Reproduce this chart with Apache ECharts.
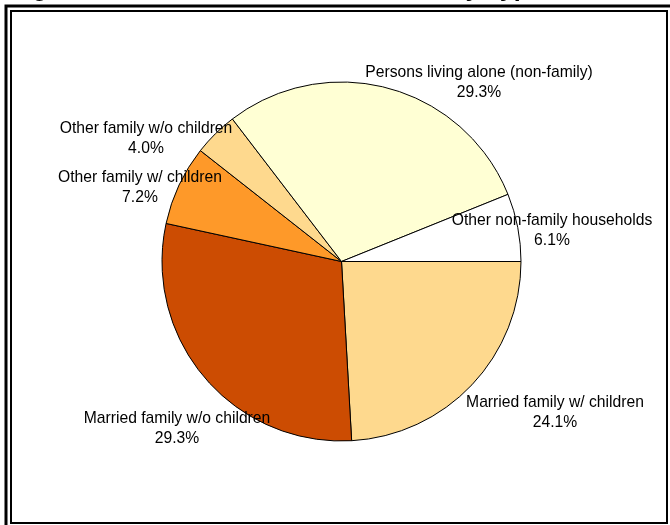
<!DOCTYPE html>
<html>
<head>
<meta charset="utf-8">
<script src="https://cdn.jsdelivr.net/npm/echarts@6/dist/echarts.min.js"></script>
<style>
html,body{margin:0;padding:0;background:#fff;}
#chart{width:670px;height:525px;}
</style>
</head>
<body>
<div id="chart"></div>
<script>
// ---- data ----
var titleText = 'Figure 3: Distribution of Households by Type, 2000';
var categories = [
  'Married family w/ children',
  'Married family w/o children',
  'Other family w/ children',
  'Other family w/o children',
  'Persons living alone (non-family)',
  'Other non-family households'
];
var values = [24.1, 29.3, 7.2, 4.0, 29.3, 6.1];

// ---- styles / layout (kept apart from data) ----
var colors = ['#FED98E', '#CC4C02', '#FE9929', '#FED98E', '#FFFFD4', '#FFFFFF'];
var labelPos = [[555, 413], [177, 428.5], [140, 187.5], [146, 138.5], [479, 83], [552, 230.5]];

var chart = echarts.init(document.getElementById('chart'), null, {renderer: 'canvas'});
var data = categories.map(function (c, i) {
  return {name: c, value: values[i], itemStyle: {color: colors[i]}};
});

chart.setOption({
  animation: false,
  backgroundColor: '#fff',
  graphic: [
    {type: 'rect', shape: {x: 6, y: 6, width: 720, height: 600}, style: {fill: null, stroke: '#000', lineWidth: 3}, silent: true},
    {type: 'rect', shape: {x: 11, y: 11, width: 656, height: 512}, style: {fill: null, stroke: '#000', lineWidth: 2}, silent: true},
    {type: 'text', x: 10, y: -11, style: {text: titleText, font: 'bold 25px "Liberation Sans", Arial, sans-serif', fill: '#000', verticalAlign: 'middle', align: 'left'}, silent: true}
  ],
  series: [{
    type: 'pie',
    center: [341.5, 261.5],
    radius: 179.5,
    startAngle: 0,
    clockwise: true,
    silent: true,
    data: data,
    itemStyle: {borderColor: '#000', borderWidth: 1},
    label: {
      show: true,
      position: 'outside',
      overflow: 'none',
      formatter: function (p) { return p.name + '\n' + p.value.toFixed(1) + '%'; },
      fontFamily: '"Liberation Sans", Arial, sans-serif',
      fontSize: 15.7,
      lineHeight: 20,
      color: '#000',
      align: 'center'
    },
    labelLine: {show: false},
    labelLayout: function (params) {
      var p = labelPos[params.dataIndex];
      return {x: p[0], y: p[1], align: 'center', verticalAlign: 'middle', hideOverlap: false};
    }
  }]
});
</script>
</body>
</html>
